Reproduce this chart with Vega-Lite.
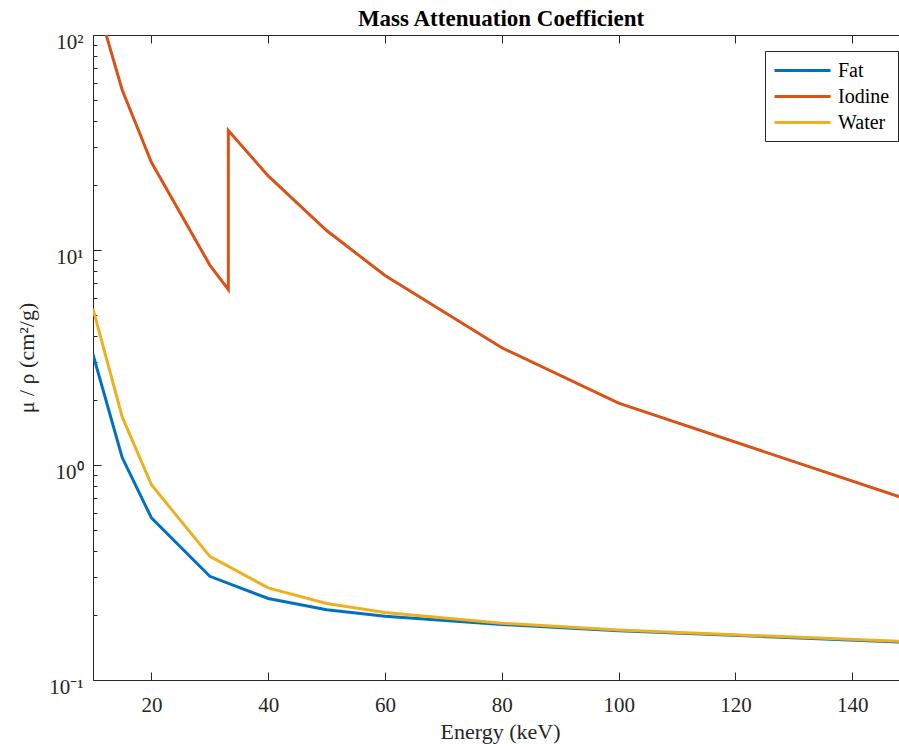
{
  "$schema": "https://vega.github.io/schema/vega-lite/v6.json",
  "width": 806,
  "height": 645,
  "autosize": {"type": "none"},
  "padding": {"left": 93, "top": 35, "right": 0, "bottom": 67},
  "background": "white",
  "title": {"text": "Mass Attenuation Coefficient", "font": "Liberation Serif", "fontSize": 23, "fontWeight": "bold", "color": "black", "offset": 0, "dx": 5},
  "config": {
    "view": {"stroke": null},
    "font": "Liberation Serif",
    "axis": {"labelFont": "Liberation Serif", "titleFont": "Liberation Serif", "labelFontSize": 21, "titleFontSize": 22, "labelColor": "#262626", "titleColor": "#262626", "titleFontWeight": "normal", "domainColor": "#262626", "tickColor": "#262626", "ticks": true, "grid": false},
    "legend": {"labelFont": "Liberation Serif", "labelFontSize": 20, "labelColor": "black"}
  },
  "data": {"values": [
    {"material": "Fat", "idx": 1, "energy": 10, "mu": 3.268},
    {"material": "Fat", "idx": 2, "energy": 15, "mu": 1.083},
    {"material": "Fat", "idx": 3, "energy": 20, "mu": 0.5677},
    {"material": "Fat", "idx": 4, "energy": 30, "mu": 0.3035},
    {"material": "Fat", "idx": 5, "energy": 40, "mu": 0.2393},
    {"material": "Fat", "idx": 6, "energy": 50, "mu": 0.2123},
    {"material": "Fat", "idx": 7, "energy": 60, "mu": 0.1977},
    {"material": "Fat", "idx": 8, "energy": 80, "mu": 0.1813},
    {"material": "Fat", "idx": 9, "energy": 100, "mu": 0.1695},
    {"material": "Fat", "idx": 10, "energy": 150, "mu": 0.1495},
    {"material": "Iodine", "idx": 1, "energy": 10, "mu": 162.6},
    {"material": "Iodine", "idx": 2, "energy": 15, "mu": 55.5},
    {"material": "Iodine", "idx": 3, "energy": 20, "mu": 25.6},
    {"material": "Iodine", "idx": 4, "energy": 30, "mu": 8.51},
    {"material": "Iodine", "idx": 5, "energy": 33.17, "mu": 6.55},
    {"material": "Iodine", "idx": 6, "energy": 33.17, "mu": 36.0},
    {"material": "Iodine", "idx": 7, "energy": 40, "mu": 22.1},
    {"material": "Iodine", "idx": 8, "energy": 50, "mu": 12.32},
    {"material": "Iodine", "idx": 9, "energy": 60, "mu": 7.61},
    {"material": "Iodine", "idx": 10, "energy": 80, "mu": 3.51},
    {"material": "Iodine", "idx": 11, "energy": 100, "mu": 1.94},
    {"material": "Iodine", "idx": 12, "energy": 150, "mu": 0.683},
    {"material": "Water", "idx": 1, "energy": 10, "mu": 5.329},
    {"material": "Water", "idx": 2, "energy": 15, "mu": 1.673},
    {"material": "Water", "idx": 3, "energy": 20, "mu": 0.8096},
    {"material": "Water", "idx": 4, "energy": 30, "mu": 0.3756},
    {"material": "Water", "idx": 5, "energy": 40, "mu": 0.2683},
    {"material": "Water", "idx": 6, "energy": 50, "mu": 0.2269},
    {"material": "Water", "idx": 7, "energy": 60, "mu": 0.2059},
    {"material": "Water", "idx": 8, "energy": 80, "mu": 0.1837},
    {"material": "Water", "idx": 9, "energy": 100, "mu": 0.1707},
    {"material": "Water", "idx": 10, "energy": 150, "mu": 0.1505}
  ]},
  "resolve": {"axis": {"x": "independent"}},
  "layer": [
    {
      "mark": {"type": "line", "clip": true, "strokeWidth": 3},
      "encoding": {
        "x": {"field": "energy", "type": "quantitative",
          "scale": {"domain": [10, 148], "nice": false, "zero": false},
          "axis": {"orient": "top", "values": [20, 40, 60, 80, 100, 120, 140], "labels": false, "title": null,
            "tickSize": {"condition": {"test": "datum.value > 0", "value": -8}, "value": -8}, "tickWidth": 1}},
        "y": {"field": "mu", "type": "quantitative",
          "scale": {"type": "log", "domain": [0.1, 100], "nice": false},
          "axis": {"values": [0.1,0.2,0.3,0.4,0.5,0.6,0.7,0.8,0.9,1,2,3,4,5,6,7,8,9,10,20,30,40,50,60,70,80,90,100],
            "labelExpr": "datum.value == 100 ? '10²' : datum.value == 10 ? '10¹' : datum.value == 1 ? '10⁰' : datum.value == 0.1 ? '10⁻¹' : ''",
            "title": "μ / ρ (cm²/g)", "tickWidth": 1,
            "tickSize": {"condition": {"test": "datum.value == 100 || datum.value == 10 || datum.value == 1 || datum.value == 0.1", "value": -8}, "value": -4},
            "labelFont": "Liberation Serif", "labelFontSize": 21, "labelPadding": 18, "labelOffset": 7, "labelBaseline": "middle",
            "titleFont": "Liberation Serif", "titleFontSize": 22, "titlePadding": 10}},
        "color": {"field": "material", "type": "nominal",
          "scale": {"domain": ["Fat", "Iodine", "Water"], "range": ["#0072BD", "#D95319", "#EDB120"]},
          "legend": {"orient": "none", "legendX": 672, "legendY": 16, "title": null,
            "symbolType": "M-1,0H4.6", "symbolSize": 400, "symbolStrokeWidth": 3,
            "labelFont": "Liberation Serif", "labelFontSize": 20, "labelColor": "black", "labelOffset": 42, "rowPadding": 4,
            "strokeColor": "#262626", "fillColor": "white", "padding": 8, "cornerRadius": 0}},
        "order": {"field": "idx", "type": "quantitative"}
      }
    },
    {
      "data": {"values": [{"energy": 10}]},
      "mark": {"type": "rule", "strokeOpacity": 0},
      "encoding": {
        "x": {"field": "energy", "type": "quantitative",
          "axis": {"orient": "bottom", "values": [20, 40, 60, 80, 100, 120, 140], "title": "Energy (keV)",
            "domainWidth": 1, "tickWidth": 1, "tickColor": "#262626",
            "tickSize": {"condition": {"test": "datum.value > 0", "value": -8}, "value": -8},
            "labelFont": "Liberation Serif", "labelFontSize": 21, "labelPadding": 22,
            "titleFont": "Liberation Serif", "titleFontSize": 22, "titlePadding": 6, "titleX": 407}}
      }
    }
  ]
}
